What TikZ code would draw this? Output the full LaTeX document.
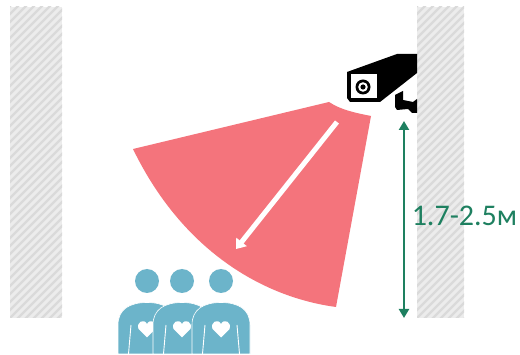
\documentclass[tikz,border=0pt]{standalone}
\usepackage{fontspec}
\setmainfont{Carlito}
\usetikzlibrary{arrows.meta}
\tikzset{
  person/.style={fill=bluep,draw=white,line width=0.6},
  slit/.style={draw=white,line width=0.9},
  heart/.style={fill=white},
  measure/.style={draw=greenm,line width=2.2,{Triangle[width=10pt,length=9pt]}-{Triangle[width=10pt,length=9pt]}},
  viewarrow/.style={draw=white,line width=5,-{Triangle[width=13pt,length=9pt]}},
}
\definecolor{wallgray}{HTML}{ECECEC}
\definecolor{stripe}{HTML}{DADADA}
\definecolor{bluep}{HTML}{6CB4CA}
\definecolor{greenm}{HTML}{1E8060}
\definecolor{redv}{HTML}{F4747C}
\begin{document}
\begin{tikzpicture}[x=1pt,y=-1pt]
\useasboundingbox[fill=white] (0,0) rectangle (520,355);
% walls
\foreach \xa/\xb in {10/62,417/464}{
  \begin{scope}
    \clip (\xa,7) rectangle (\xb,318);
    \fill[wallgray] (\xa,7) rectangle (\xb,318);
    \foreach \s in {0,8,...,420}{
      \draw[stripe,line width=2.4] (\xa-10,\s) -- (\xa+90,\s-100);
    }
  \end{scope}
}
% view cone
\fill[redv] (133,149) -- (329,102) .. controls (341,110) and (356,113) .. (371,116) -- (336,307)
  .. controls (262,297) and (182,250) .. cycle;
% camera
\fill[black] (347,72) -- (397,54) -- (417,54) -- (417,73) -- (380,102) -- (350,102) -- (347,98) -- cycle;
\fill[white] (351,74) rectangle (377,98);
\fill[black] (363,87) circle (7.5);
\fill[white] (363,87) circle (4.8);
\fill[black] (363,87) circle (2.6);
\fill[black] (395,95) -- (403,91) -- (403,100) -- (413,102) -- (417,99) -- (417,113) -- (412,113) -- (408,109) -- (397,110) -- (395,107) -- cycle;
% arrows
\coordinate (va) at (337,122);
\coordinate (vb) at (236,249);
\draw[viewarrow] (va) -- (vb);
\coordinate (ma) at (404,121);
\coordinate (mb) at (404,318);
\draw[measure] (ma) -- (mb);
\node[text=greenm,font=\fontsize{30}{30}\selectfont,anchor=center] (lbl) at (464.5,216) {1.7-2.5м};
% people
\foreach \cx in {147,182,221}{
  \fill[bluep] (\cx,281) circle (12);
  \draw[person] (\cx-29,354) -- (\cx-29,325) .. controls (\cx-29,309) and (\cx-17,302.5) .. (\cx,302.5)
    .. controls (\cx+17,302.5) and (\cx+29,309) .. (\cx+29,325) -- (\cx+29,354) -- cycle;
  \draw[slit] (\cx-16,325) -- (\cx-18.5,354);
  \draw[slit] (\cx+16,325) -- (\cx+18.5,354);
  \fill[heart] (\cx,337.5) -- (\cx-8.5,329) .. controls (\cx-11,322) and (\cx-3,318) .. (\cx,324)
     .. controls (\cx+3,318) and (\cx+11,322) .. (\cx+8.5,329) -- cycle;
}
\end{tikzpicture}
\end{document}
